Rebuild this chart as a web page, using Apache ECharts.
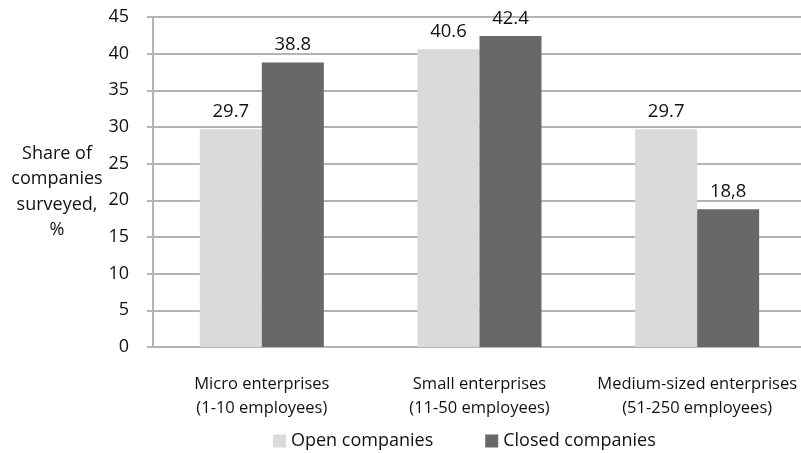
<!DOCTYPE html>
<html>
<head>
<meta charset="utf-8">
<script src="https://cdn.jsdelivr.net/npm/echarts@6/dist/echarts.min.js"></script>
<style>
  html, body { margin: 0; padding: 0; background: #ffffff; }
  #chart { width: 801px; height: 453px; }
</style>
</head>
<body>
<div id="chart"></div>
<script>
// Company size groups shown along the x axis
const categories = [
  'Micro enterprises\n(1-10 employees)',
  'Small enterprises\n(11-50 employees)',
  'Medium-sized enterprises\n(51-250 employees)'
];
const seriesNames = ['Open companies', 'Closed companies'];
const openValues = [29.7, 40.6, 29.7];
const closedValues = [38.8, 42.4, 18.8];
// Value labels as printed above each bar
const openLabels = ['29.7', '40.6', '29.7'];
const closedLabels = ['38.8', '42.4', '18,8'];
const yTicks = { min: 0, max: 45, interval: 5 };
const yAxisTitle = 'Share of\ncompanies\nsurveyed,\n%';

const FONT = 'Open Sans';
const chart = echarts.init(document.getElementById('chart'), null, { renderer: 'canvas' });

function barSeries(name, values, labels, color) {
  return {
    name: name,
    type: 'bar',
    data: values,
    barWidth: 62,
    barGap: '0%',
    itemStyle: { color: color },
    label: {
      show: true,
      position: 'top',
      distance: 8,
      color: '#111111',
      fontFamily: FONT,
      fontSize: 18.5,
      formatter: function (p) { return labels[p.dataIndex]; }
    },
    emphasis: { disabled: true }
  };
}

chart.setOption({
  animation: false,
  textStyle: { fontFamily: FONT },
  grid: {
    left: 153, width: 653, top: 17, bottom: 106,
    containLabel: false,
    outerBoundsMode: 'none'
  },
  legend: {
    data: seriesNames,
    top: 432,
    left: 273,
    padding: 0,
    itemWidth: 13,
    itemHeight: 13,
    itemGap: 52,
    icon: 'rect',
    textStyle: { fontFamily: FONT, fontSize: 18, color: '#111111' }
  },
  graphic: [{
    type: 'text',
    x: 57,
    y: 141,
    style: {
      text: yAxisTitle,
      fill: '#111111',
      font: '18px "Open Sans"',
      textAlign: 'center',
      lineHeight: 25.5
    }
  }],
  xAxis: {
    type: 'category',
    data: categories,
    axisLine: { show: true, lineStyle: { color: '#b4b4b4', width: 2 } },
    axisTick: { show: false },
    axisLabel: {
      color: '#111111',
      fontFamily: FONT,
      fontSize: 16.5,
      lineHeight: 24,
      margin: 25,
      interval: 0
    }
  },
  yAxis: {
    type: 'value',
    min: yTicks.min,
    max: yTicks.max,
    interval: yTicks.interval,
    axisLine: { show: true, lineStyle: { color: '#b4b4b4', width: 2 } },
    axisTick: { show: true, length: 6, lineStyle: { color: '#b4b4b4', width: 2 } },
    splitLine: { show: true, lineStyle: { color: '#b4b4b4', width: 2 } },
    axisLabel: {
      color: '#111111',
      fontFamily: FONT,
      fontSize: 18,
      margin: 24
    }
  },
  series: [
    barSeries(seriesNames[0], openValues, openLabels, '#d9dadc'),
    barSeries(seriesNames[1], closedValues, closedLabels, '#68686a')
  ]
});
</script>
</body>
</html>
